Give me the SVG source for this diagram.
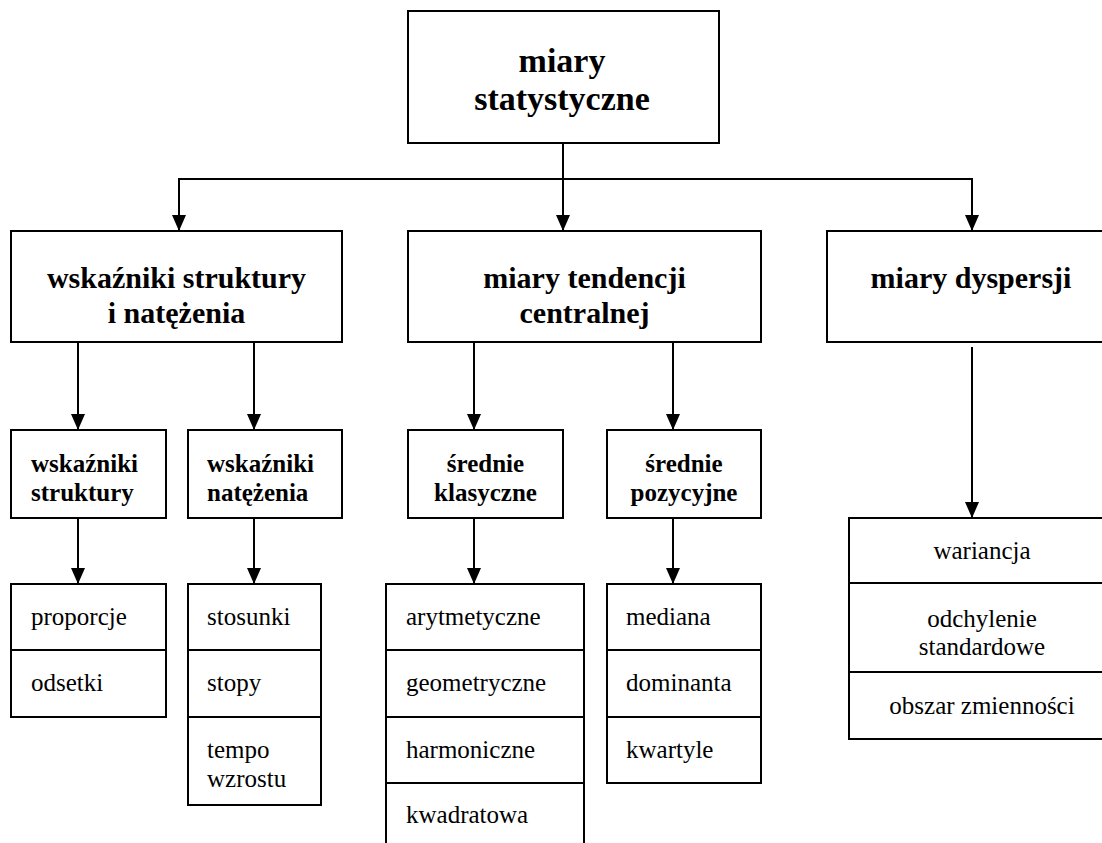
<svg xmlns="http://www.w3.org/2000/svg" width="1102" height="843" viewBox="0 0 1102 843">
<style>
.box{fill:#fff;stroke:#000;stroke-width:2}
.div{stroke:#000;stroke-width:2}
.c{fill:none;stroke:#000;stroke-width:2}
text{font-family:'Liberation Serif','Times New Roman','DejaVu Serif',serif;fill:#000}
.t0{font-weight:bold;font-size:34px;text-anchor:middle}
.t1{font-weight:bold;font-size:30px;text-anchor:middle}
.t2{font-weight:bold;font-size:25px}
.t3{font-size:25px}
.m{text-anchor:middle}
</style>
<defs>
<marker id="ah" viewBox="0 0 16 14" refX="16" refY="7" markerWidth="16" markerHeight="14" markerUnits="userSpaceOnUse" orient="auto">
<path d="M0,0 L16,7 L0,14 z" fill="#000"/>
</marker>
</defs>
<rect width="1102" height="843" fill="#fff"/>
<g id="connectors">
<line class="c" x1="563" y1="143" x2="563" y2="231" marker-end="url(#ah)"/>
<polyline class="c" points="179,231 179,179 972,179 972,231"/>
<line class="c" x1="179" y1="179" x2="179" y2="231" marker-end="url(#ah)"/>
<line class="c" x1="972" y1="179" x2="972" y2="231" marker-end="url(#ah)"/>
<line class="c" x1="78" y1="342" x2="78" y2="430" marker-end="url(#ah)"/>
<line class="c" x1="254" y1="342" x2="254" y2="430" marker-end="url(#ah)"/>
<line class="c" x1="474" y1="342" x2="474" y2="430" marker-end="url(#ah)"/>
<line class="c" x1="673" y1="342" x2="673" y2="430" marker-end="url(#ah)"/>
<line class="c" x1="78" y1="518" x2="78" y2="584" marker-end="url(#ah)"/>
<line class="c" x1="254" y1="518" x2="254" y2="584" marker-end="url(#ah)"/>
<line class="c" x1="474" y1="518" x2="474" y2="584" marker-end="url(#ah)"/>
<line class="c" x1="673" y1="518" x2="673" y2="584" marker-end="url(#ah)"/>
<line class="c" x1="972" y1="347" x2="972" y2="518" marker-end="url(#ah)"/>
</g>
<g id="n-root">
<rect class="box" x="408" y="11" width="311" height="132"/>
<text class="t0" x="562" y="72">miary</text>
<text class="t0" x="562" y="110">statystyczne</text>
</g>
<g id="n-wsk">
<rect class="box" x="11" y="231" width="331" height="111"/>
<text class="t1" x="176.5" y="288">wskaźniki struktury</text>
<text class="t1" x="176.5" y="323">i natężenia</text>
</g>
<g id="n-tend">
<rect class="box" x="408" y="231" width="353" height="111"/>
<text class="t1" x="584.5" y="288">miary tendencji</text>
<text class="t1" x="584.5" y="323">centralnej</text>
</g>
<g id="n-dysp">
<rect class="box" x="827" y="231" width="290" height="111"/>
<text class="t1" x="971" y="288">miary dyspersji</text>
</g>
<g id="n-wsk-str">
<rect class="box" x="11" y="430" width="155" height="88"/>
<text class="t2" x="31" y="472">wskaźniki</text>
<text class="t2" x="31" y="501">struktury</text>
</g>
<g id="n-wsk-nat">
<rect class="box" x="188" y="430" width="154" height="88"/>
<text class="t2" x="207" y="472">wskaźniki</text>
<text class="t2" x="207" y="501">natężenia</text>
</g>
<g id="n-sr-klas">
<rect class="box" x="408" y="430" width="155" height="88"/>
<text class="t2 m" x="485.5" y="472">średnie</text>
<text class="t2 m" x="485.5" y="501">klasyczne</text>
</g>
<g id="n-sr-poz">
<rect class="box" x="607" y="430" width="154" height="88"/>
<text class="t2 m" x="684" y="472">średnie</text>
<text class="t2 m" x="684" y="501">pozycyjne</text>
</g>
<g id="n-list-str">
<rect class="box" x="11" y="584" width="155" height="133"/>
<line class="div" x1="11" y1="650" x2="166" y2="650"/>
<text class="t3" x="31" y="625">proporcje</text>
<text class="t3" x="31" y="691">odsetki</text>
</g>
<g id="n-list-nat">
<rect class="box" x="188" y="584" width="133" height="221"/>
<line class="div" x1="188" y1="650" x2="321" y2="650"/>
<line class="div" x1="188" y1="717" x2="321" y2="717"/>
<text class="t3" x="207" y="625">stosunki</text>
<text class="t3" x="207" y="691">stopy</text>
<text class="t3" x="207" y="758">tempo</text>
<text class="t3" x="207" y="787">wzrostu</text>
</g>
<g id="n-list-klas">
<rect class="box" x="386" y="584" width="198" height="270"/>
<line class="div" x1="386" y1="650" x2="584" y2="650"/>
<line class="div" x1="386" y1="717" x2="584" y2="717"/>
<line class="div" x1="386" y1="783" x2="584" y2="783"/>
<text class="t3" x="406" y="625">arytmetyczne</text>
<text class="t3" x="406" y="691">geometryczne</text>
<text class="t3" x="406" y="758">harmoniczne</text>
<text class="t3" x="406" y="823">kwadratowa</text>
</g>
<g id="n-list-poz">
<rect class="box" x="607" y="584" width="154" height="199"/>
<line class="div" x1="607" y1="650" x2="761" y2="650"/>
<line class="div" x1="607" y1="717" x2="761" y2="717"/>
<text class="t3" x="626" y="625">mediana</text>
<text class="t3" x="626" y="691">dominanta</text>
<text class="t3" x="626" y="758">kwartyle</text>
</g>
<g id="n-list-dysp">
<rect class="box" x="849" y="518" width="266" height="221"/>
<line class="div" x1="849" y1="583" x2="1115" y2="583"/>
<line class="div" x1="849" y1="672" x2="1115" y2="672"/>
<text class="t3 m" x="982" y="559">wariancja</text>
<text class="t3 m" x="982" y="627">odchylenie</text>
<text class="t3 m" x="982" y="655">standardowe</text>
<text class="t3 m" x="982" y="714">obszar zmienności</text>
</g>
</svg>
